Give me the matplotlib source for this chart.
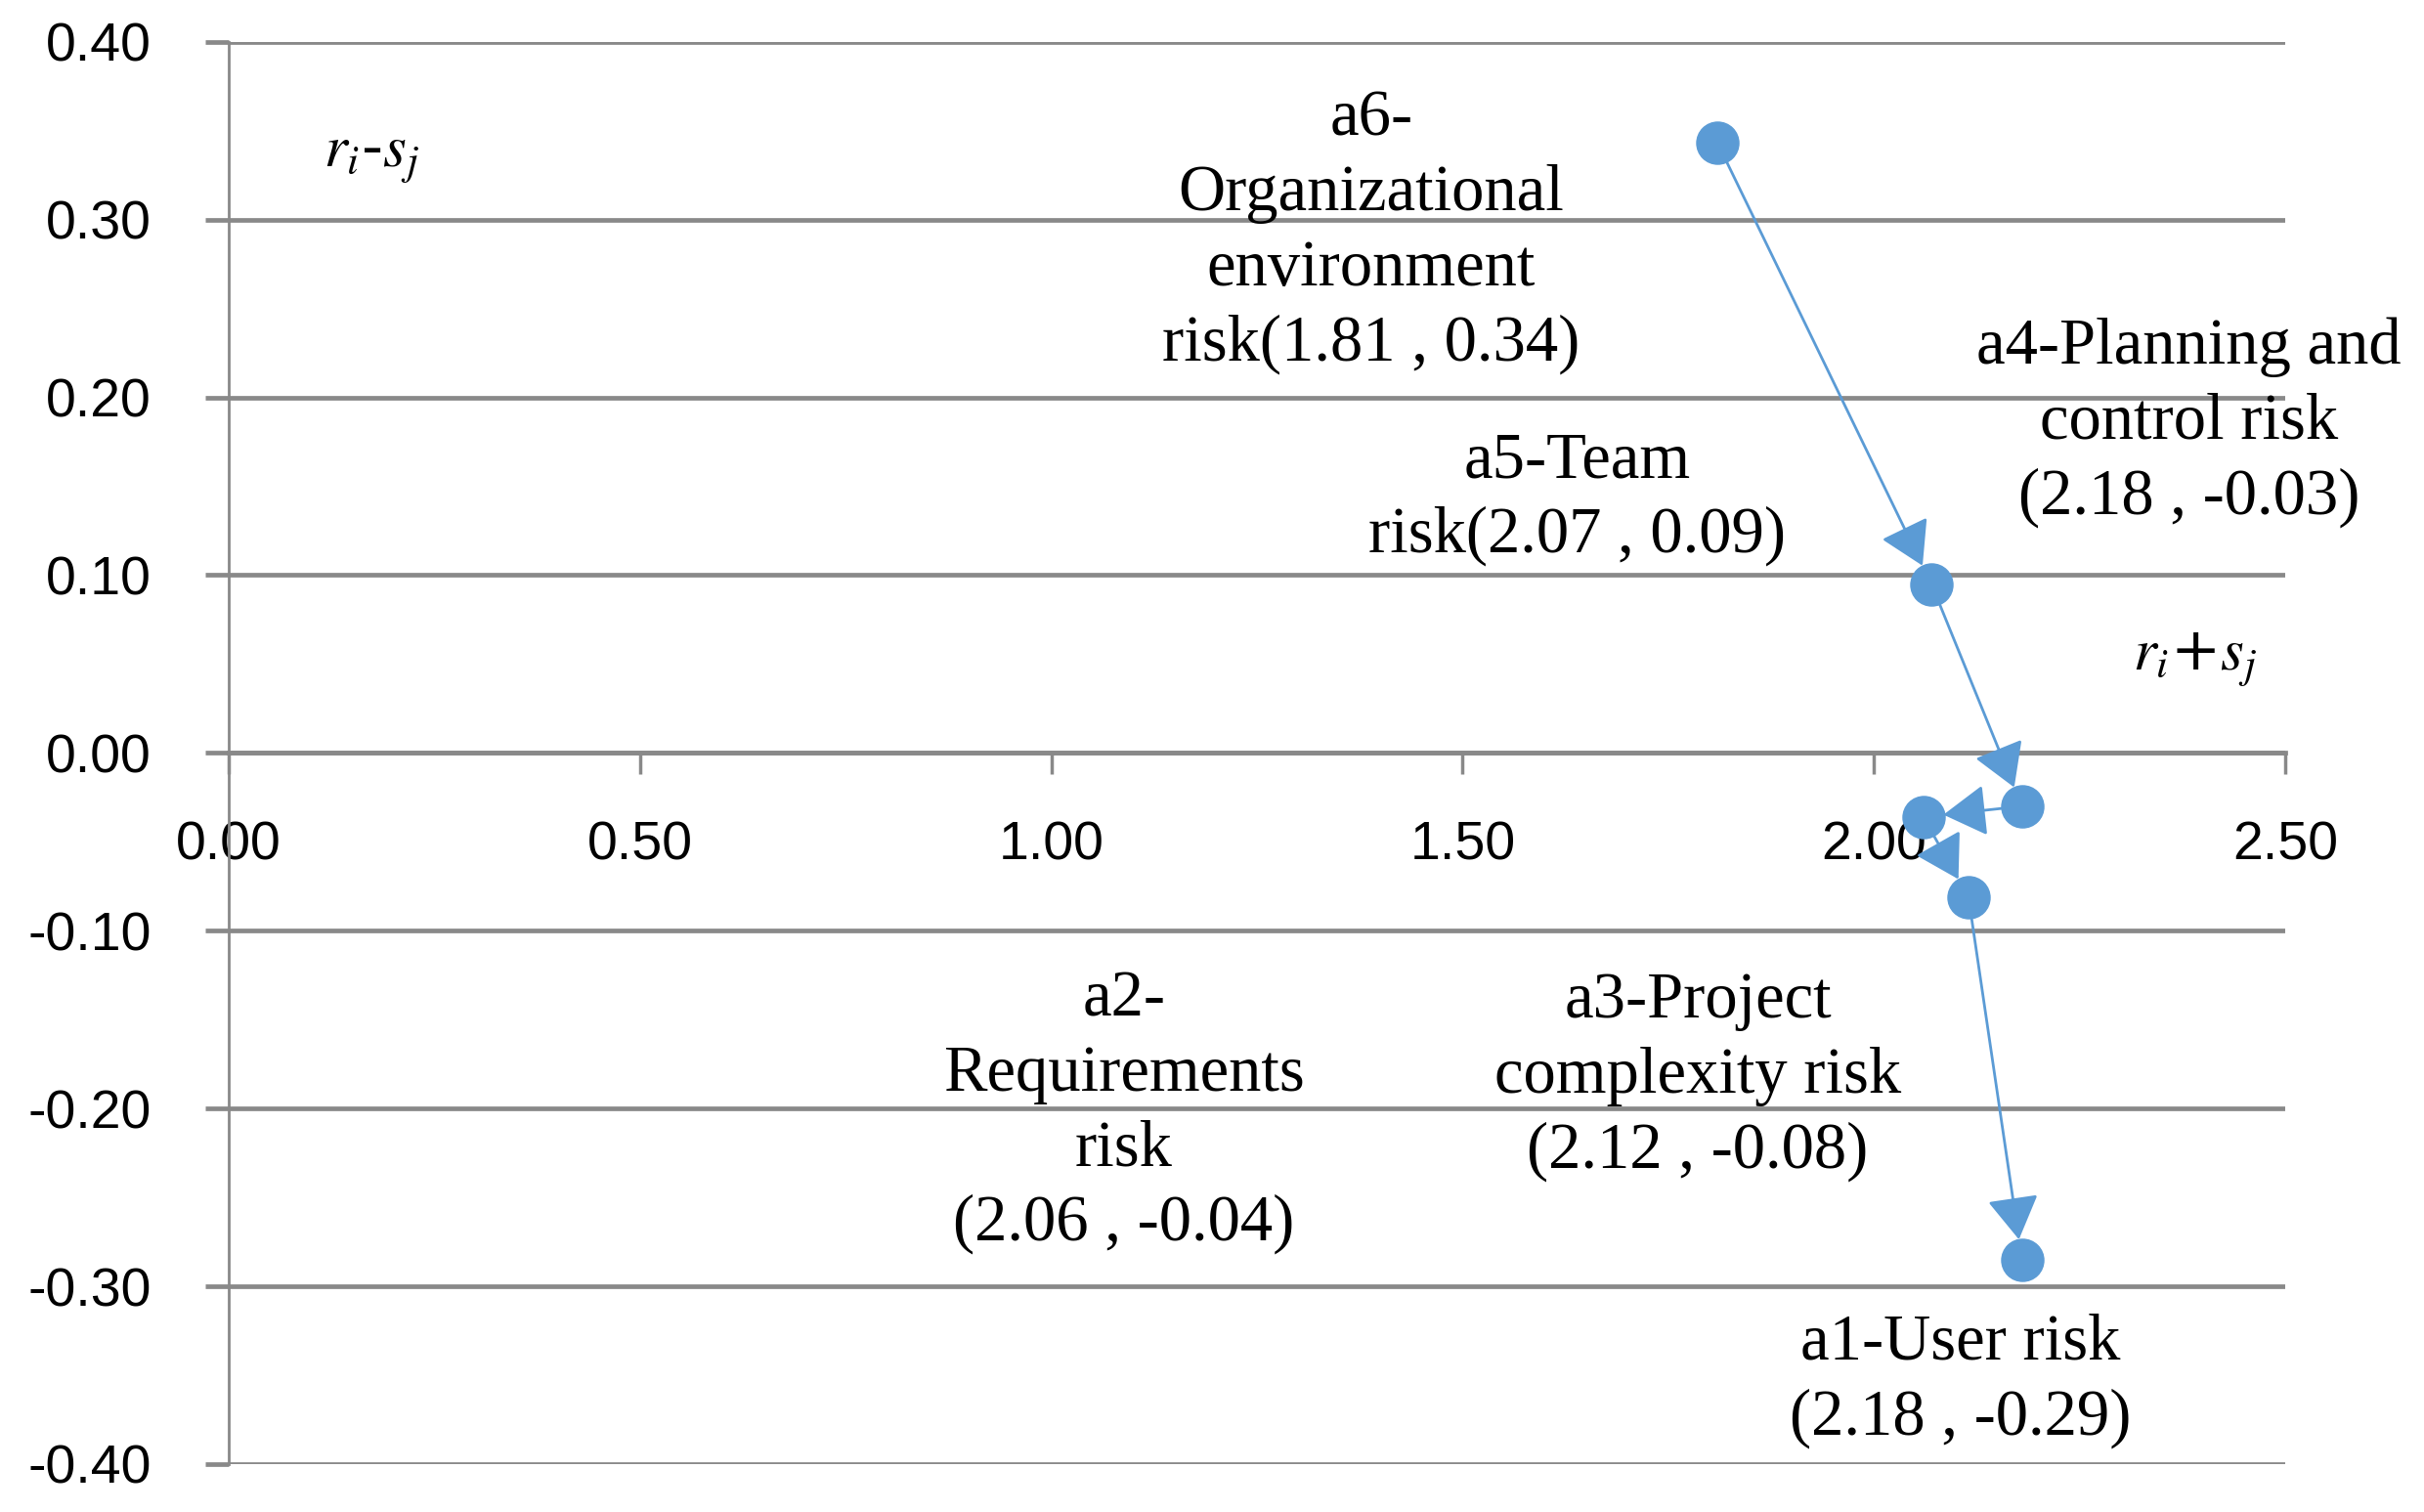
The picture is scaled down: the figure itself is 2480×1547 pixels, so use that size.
###risk relation diagram (r+s vs r-s)

import matplotlib.pyplot as plt

########################################################################
### data ###
########################################################################

#path order of the arrows: a6 -> a5 -> a4 -> a2 -> a3 -> a1
risk_ids = ['a6', 'a5', 'a4', 'a2', 'a3', 'a1']
r_plus_s = [1.81, 2.07, 2.18, 2.06, 2.115, 2.18]
r_minus_s = [0.343, 0.095, -0.030, -0.036, -0.081, -0.285]

labels = {
    'a6': 'a6-\nOrganizational\nenvironment\nrisk(1.81 , 0.34)',
    'a5': 'a5-Team\nrisk(2.07 , 0.09)',
    'a4': 'a4-Planning and\ncontrol risk\n(2.18 , -0.03)',
    'a2': 'a2-\nRequirements\nrisk\n(2.06 , -0.04)',
    'a3': 'a3-Project\ncomplexity risk\n(2.12 , -0.08)',
    'a1': 'a1-User risk\n(2.18 , -0.29)',
}
label_pos = {
    'a6': (1.389, 0.293),
    'a5': (1.639, 0.143),
    'a4': (2.383, 0.186),
    'a2': (1.088, -0.202),
    'a3': (1.786, -0.182),
    'a1': (2.105, -0.353),
}

x_ticks = [0.0, 0.5, 1.0, 1.5, 2.0, 2.5]
y_ticks = [-0.4, -0.3, -0.2, -0.1, 0.0, 0.1, 0.2, 0.3, 0.4]

########################################################################
### plot ###
########################################################################

plt.rcParams['mathtext.fontset'] = 'stix'

blue = '#5B9BD5'
grey = '#898989'

fig = plt.figure(figsize=(24.8, 15.47), dpi=100)
ax = fig.add_axes([0.0944, 0.0317, 0.9427 - 0.0944, 0.9724 - 0.0317])

ax.set_xlim(0, 2.5)
ax.set_ylim(-0.4, 0.4)

#spines (set_position resets the ticks, so do it first)
for s in ['top', 'right']:
    ax.spines[s].set_visible(False)
ax.spines['bottom'].set_position(('data', 0))
ax.spines['bottom'].set_color(grey)
ax.spines['bottom'].set_linewidth(3.4)
ax.spines['left'].set_color(grey)
ax.spines['left'].set_linewidth(2.0)

#ticks and grid lines
ax.set_yticks(y_ticks)
ax.set_yticklabels(['%.2f' % v for v in y_ticks], fontsize=40,
                   family='Liberation Sans')
ax.yaxis.grid(True, color=grey, lw=3.4)
ax.set_axisbelow(True)

ax.set_xticks(x_ticks)
ax.set_xticklabels(['%.2f' % v for v in x_ticks], fontsize=40,
                   family='Liberation Sans')

ax.tick_params(axis='x', direction='out', length=16, width=2.5,
               color=grey, pad=34)
ax.tick_params(axis='y', direction='out', length=17, width=3.4,
               color=grey, pad=40)

#arrows between the risks
for i in range(len(risk_ids) - 1):
    ax.annotate(
        '', xy=(r_plus_s[i + 1], r_minus_s[i + 1]),
        xytext=(r_plus_s[i], r_minus_s[i]),
        arrowprops=dict(arrowstyle='-|>,head_length=0.5,head_width=0.3',
                        color=blue, lw=2.0, mutation_scale=55,
                        shrinkA=14, shrinkB=15),
        zorder=3)

#markers
ax.plot(r_plus_s, r_minus_s, 'o', ls='none', color=blue,
        markersize=31, zorder=4)

#labels
for rid in risk_ids:
    lx, ly = label_pos[rid]
    ax.text(lx, ly, labels[rid], ha='center', va='center',
            fontsize=48, family='Liberation Serif', linespacing=1.33,
            zorder=5)

#axis names
ax.text(0.173, 0.336, r'$r_i$-$s_j$', fontsize=44, ha='center',
        va='center')
ax.text(2.39, 0.052, r'$r_i$+$s_j$', fontsize=44, ha='center',
        va='center')

fig.savefig('out.png', dpi=100)
